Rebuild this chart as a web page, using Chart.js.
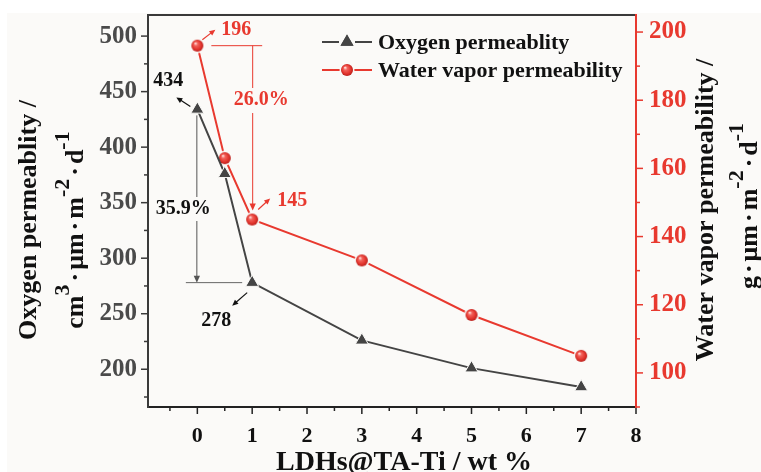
<!DOCTYPE html>
<html>
<head>
<meta charset="utf-8">
<script src="https://cdn.jsdelivr.net/npm/chart.js@4/dist/chart.umd.min.js"></script>
<style>
  html, body { margin: 0; padding: 0; background: #ffffff; }
  #wrap { width: 761px; height: 472px; }
</style>
</head>
<body>
<div id="wrap"><canvas id="c" width="761" height="472"></canvas></div>
<script>
// LDHs@TA-Ti loading (wt %) and the two barrier properties measured at each loading
const loading = [0, 0.5, 1, 3, 5, 7];
const oxygenPerm = [434, 376, 278, 226, 201, 184];
const waterPerm = [196, 163, 145, 133, 117, 105];

// tick labels on each axis
const xTicks = [0, 1, 2, 3, 4, 5, 6, 7, 8];
const oxygenTicks = [200, 250, 300, 350, 400, 450, 500];
const waterTicks = [100, 120, 140, 160, 180, 200];

const FONT = '"Liberation Serif", "Times New Roman", serif';
const GRAY = '#444444';
const RED = '#e8392f';
const BG = '#fbfaf8';

// shaded red sphere used as the water-vapour marker
function makeSphere() {
  const s = document.createElement('canvas');
  s.width = 16; s.height = 16;
  const g = s.getContext('2d');
  g.fillStyle = BG;
  g.beginPath(); g.arc(8, 8, 7.5, 0, Math.PI * 2); g.fill();
  const grad = g.createRadialGradient(6, 5.5, 0.3, 8, 8, 6.3);
  grad.addColorStop(0, '#ffe2de');
  grad.addColorStop(0.28, '#f2625b');
  grad.addColorStop(0.7, '#e2342d');
  grad.addColorStop(1, '#b51d1a');
  g.fillStyle = grad;
  g.beginPath(); g.arc(8, 8, 6, 0, Math.PI * 2); g.fill();
  return s;
}
const sphere = makeSphere();

function arrow(ctx, x1, y1, x2, y2, color, head, lw) {
  const a = Math.atan2(y2 - y1, x2 - x1);
  ctx.save();
  ctx.strokeStyle = color; ctx.fillStyle = color; ctx.lineWidth = lw;
  ctx.beginPath();
  ctx.moveTo(x1, y1);
  ctx.lineTo(x2 - Math.cos(a) * head * 0.8, y2 - Math.sin(a) * head * 0.8);
  ctx.stroke();
  ctx.beginPath();
  ctx.moveTo(x2, y2);
  ctx.lineTo(x2 - head * Math.cos(a) + head * 0.45 * Math.sin(a), y2 - head * Math.sin(a) - head * 0.45 * Math.cos(a));
  ctx.lineTo(x2 - head * Math.cos(a) - head * 0.45 * Math.sin(a), y2 - head * Math.sin(a) + head * 0.45 * Math.cos(a));
  ctx.closePath();
  ctx.fill();
  ctx.restore();
}

function line(ctx, x1, y1, x2, y2, color, lw) {
  ctx.save();
  ctx.strokeStyle = color; ctx.lineWidth = lw;
  ctx.beginPath(); ctx.moveTo(x1, y1); ctx.lineTo(x2, y2); ctx.stroke();
  ctx.restore();
}

// text with raised superscript pieces, drawn rotated so it reads bottom-to-top;
// a bare number in the list is extra spacing in pixels
function richVertical(ctx, parts, baseX, centerY, size, supSize, rise) {
  ctx.save();
  ctx.translate(baseX, centerY);
  ctx.rotate(-Math.PI / 2);
  ctx.fillStyle = '#111';
  ctx.textBaseline = 'alphabetic';
  let total = 0;
  const widths = parts.map(p => {
    if (typeof p === 'number') { total += p; return p; }
    ctx.font = 'bold ' + (p[1] ? supSize : size) + 'px ' + FONT;
    const w = ctx.measureText(p[0]).width;
    total += w;
    return w;
  });
  let x = -total / 2;
  parts.forEach((p, i) => {
    if (typeof p !== 'number') {
      ctx.font = 'bold ' + (p[1] ? supSize : size) + 'px ' + FONT;
      ctx.fillText(p[0], x, p[1] ? -rise : 0);
    }
    x += widths[i];
  });
  ctx.restore();
}

const backdrop = {
  id: 'backdrop',
  beforeDraw(chart) {
    const ctx = chart.ctx;
    ctx.save();
    ctx.fillStyle = '#ffffff';
    ctx.fillRect(0, 0, chart.width, chart.height);
    ctx.fillStyle = BG;
    ctx.fillRect(7, 13, chart.width - 7, chart.height - 13);
    ctx.restore();
  }
};

const G = 3; // spacing around the centred dots in the unit labels
const MD = '\u00b7';

const frameAndTicks = {
  id: 'frameAndTicks',
  afterDraw(chart) {
    const ctx = chart.ctx;
    const a = chart.chartArea;
    const sx = chart.scales.x, sy = chart.scales.y, sy2 = chart.scales.y2;
    // minor / major tick marks, pointing outward
    for (let v = Math.ceil(sy.min / 25) * 25; v <= sy.max; v += 25) {
      const y = sy.getPixelForValue(v);
      line(ctx, a.left, y, a.left - (v % 50 === 0 ? 7 : 4), y, '#3a3a3a', 1.5);
    }
    for (let v = Math.ceil(sy2.min / 10) * 10; v <= sy2.max; v += 10) {
      const y = sy2.getPixelForValue(v);
      line(ctx, a.right, y, a.right + (v % 20 === 0 ? 7 : 4), y, RED, 1.5);
    }
    for (let v = Math.ceil(sx.min * 2) / 2; v <= sx.max + 1e-9; v += 0.5) {
      const x = sx.getPixelForValue(v);
      line(ctx, x, a.bottom, x, a.bottom + (Number.isInteger(v) ? 7 : 4), '#222', 1.5);
    }
    // frame
    line(ctx, a.left, a.top, a.right, a.top, '#3a3a3a', 2);
    line(ctx, a.left - 1, a.bottom, a.right, a.bottom, '#222', 2);
    line(ctx, a.left, a.top - 1, a.left, a.bottom + 1, '#3a3a3a', 2);
    line(ctx, a.right, a.top - 1, a.right, a.bottom + 1, RED, 2);

    // axis titles
    richVertical(ctx, [['Oxygen permeablity /', false]], 36, 220, 26, 26, 0);
    richVertical(ctx, [['cm', false], ['3', true], G, [MD, false], G, ['\u03bcm', false], G, [MD, false], G, ['m', false],
      ['-2', true], G, [MD, false], G, ['d', false], ['-1', true]], 83, 230, 26, 22, 14);
    richVertical(ctx, [['Water vapor permeability /', false]], 713, 210, 26, 26, 0);
    richVertical(ctx, [['g', false], G, [MD, false], G, ['\u03bcm', false], G, [MD, false], G, ['m', false],
      ['-2', true], G, [MD, false], G, ['d', false], ['-1', true]], 757, 206, 26, 22, 14);

    ctx.save();
    ctx.fillStyle = '#111';
    ctx.font = 'bold 28px ' + FONT;
    ctx.textAlign = 'center';
    ctx.textBaseline = 'alphabetic';
    ctx.fillText('LDHs@TA-Ti / wt %', 404, 470);
    ctx.restore();
  }
};

const legendBox = {
  id: 'legendBox',
  afterDraw(chart) {
    const ctx = chart.ctx;
    const rows = [
      { y: 42, color: GRAY, label: chart.data.datasets[0].label, tri: true },
      { y: 70, color: RED, label: chart.data.datasets[1].label, tri: false }
    ];
    rows.forEach(r => {
      line(ctx, 322, r.y, 372, r.y, r.color, 2);
      if (r.tri) {
        ctx.save();
        ctx.fillStyle = BG;
        ctx.fillRect(339, r.y - 8, 16, 14);
        ctx.fillStyle = GRAY; ctx.strokeStyle = GRAY;
        Chart.helpers.drawPoint(ctx, { pointStyle: 'triangle', radius: 7.5, rotation: 0, borderWidth: 0 }, 347, r.y);
        ctx.fill();
        ctx.restore();
      } else {
        ctx.drawImage(sphere, 347 - 8, r.y - 8);
      }
      ctx.save();
      ctx.fillStyle = '#111';
      ctx.font = 'bold 22px ' + FONT;
      ctx.textBaseline = 'middle';
      ctx.fillText(r.label, 378, r.y + 1);
      ctx.restore();
    });
  }
};

// value call-outs and the percentage drop brackets
const callouts = {
  id: 'callouts',
  afterDatasetsDraw(chart) {
    const ctx = chart.ctx;
    const sx = chart.scales.x, sy = chart.scales.y, sy2 = chart.scales.y2;
    const ox0 = { x: sx.getPixelForValue(loading[0]), y: sy.getPixelForValue(oxygenPerm[0]) };
    const ox1 = { x: sx.getPixelForValue(loading[2]), y: sy.getPixelForValue(oxygenPerm[2]) };
    const wa0 = { x: sx.getPixelForValue(loading[0]), y: sy2.getPixelForValue(waterPerm[0]) };
    const wa1 = { x: sx.getPixelForValue(loading[2]), y: sy2.getPixelForValue(waterPerm[2]) };
    const oxDrop = ((oxygenPerm[0] - oxygenPerm[2]) / oxygenPerm[0] * 100).toFixed(1) + '%';
    const waDrop = ((waterPerm[0] - waterPerm[2]) / waterPerm[0] * 100).toFixed(1) + '%';

    ctx.save();
    ctx.font = 'bold 20px ' + FONT;
    ctx.textAlign = 'center';
    ctx.textBaseline = 'middle';

    // oxygen: 434 -> 278
    ctx.fillStyle = '#111';
    ctx.fillText(String(oxygenPerm[0]), ox0.x - 29, ox0.y - 29);
    arrow(ctx, ox0.x - 7, ox0.y - 3, ox0.x - 21, ox0.y - 12, '#111', 6, 1.2);
    ctx.fillText(String(oxygenPerm[2]), ox1.x - 36, ox1.y + 38);
    arrow(ctx, ox1.x - 5, ox1.y + 10, ox1.x - 20, ox1.y + 23, '#111', 6, 1.2);

    const bx = ox0.x - 0.5;
    const labelY = 209;
    line(ctx, bx, ox0.y + 6, bx, labelY - 12, '#555', 1);
    arrow(ctx, bx, labelY + 12, bx, ox1.y, '#555', 7, 1);
    line(ctx, bx - 11, ox1.y, ox1.x - 10, ox1.y, '#666', 1);
    ctx.fillStyle = '#111';
    ctx.fillText(oxDrop, ox0.x - 14, labelY);

    // water vapour: 196 -> 145
    ctx.fillStyle = RED;
    ctx.fillText(String(waterPerm[0]), wa0.x + 39, wa0.y - 16);
    arrow(ctx, wa0.x + 5, wa0.y - 6, wa0.x + 18, wa0.y - 16, RED, 6, 1.2);
    ctx.fillText(String(waterPerm[2]), wa1.x + 40, wa1.y - 19);
    arrow(ctx, wa1.x + 6, wa1.y - 10, wa1.x + 18, wa1.y - 21, RED, 6, 1.2);

    const rx = wa1.x + 0.5;
    const rLabelY = 100;
    line(ctx, wa0.x + 14, wa0.y, wa1.x + 10, wa0.y, RED, 1);
    line(ctx, rx, wa0.y, rx, rLabelY - 12, RED, 1);
    arrow(ctx, rx, rLabelY + 13, rx, wa1.y - 9, RED, 7, 1);
    ctx.fillStyle = RED;
    ctx.fillText(waDrop, wa1.x + 9, rLabelY);
    ctx.restore();
  }
};

const tickFont = (size) => ({ family: FONT, size: size, weight: 'bold' });
const noGrid = { display: false, drawTicks: false };

new Chart(document.getElementById('c'), {
  type: 'line',
  data: {
    datasets: [
      {
        label: 'Oxygen permeablity',
        data: loading.map((x, i) => ({ x: x, y: oxygenPerm[i] })),
        yAxisID: 'y',
        borderColor: GRAY,
        borderWidth: 2,
        pointStyle: 'triangle',
        pointRadius: 7.5,
        pointBackgroundColor: GRAY,
        pointBorderColor: BG,
        pointBorderWidth: 1,
        tension: 0
      },
      {
        label: 'Water vapor permeability',
        data: loading.map((x, i) => ({ x: x, y: waterPerm[i] })),
        yAxisID: 'y2',
        borderColor: RED,
        borderWidth: 2,
        pointStyle: sphere,
        pointRadius: 7,
        tension: 0
      }
    ]
  },
  options: {
    responsive: false,
    animation: false,
    devicePixelRatio: 1,
    layout: { padding: { top: 15, left: 0, right: 0, bottom: 0 } },
    plugins: { legend: { display: false }, tooltip: { enabled: false } },
    scales: {
      x: {
        type: 'linear',
        min: -0.9,
        max: 8,
        grid: noGrid,
        border: { display: false },
        afterBuildTicks: s => { s.ticks = xTicks.map(v => ({ value: v })); },
        afterFit: s => { s.height = 65; s.paddingLeft = 0; s.paddingRight = 0; },
        ticks: { font: tickFont(22), color: '#111', padding: 16, maxRotation: 0, autoSkip: false }
      },
      y: {
        type: 'linear',
        position: 'left',
        min: 166,
        max: 519,
        grid: noGrid,
        border: { display: false },
        afterBuildTicks: s => { s.ticks = oxygenTicks.map(v => ({ value: v })); },
        afterFit: s => { s.width = 148; s.paddingTop = 0; s.paddingBottom = 0; },
        ticks: { font: tickFont(25), color: '#4a4a4a', padding: 11 }
      },
      y2: {
        type: 'linear',
        position: 'right',
        min: 90,
        max: 205,
        grid: noGrid,
        border: { display: false },
        afterBuildTicks: s => { s.ticks = waterTicks.map(v => ({ value: v })); },
        afterFit: s => { s.width = 125; s.paddingTop = 0; s.paddingBottom = 0; },
        ticks: { font: tickFont(25), color: RED, padding: 13 }
      }
    }
  },
  plugins: [backdrop, callouts, frameAndTicks, legendBox]
});
</script>
</body>
</html>
